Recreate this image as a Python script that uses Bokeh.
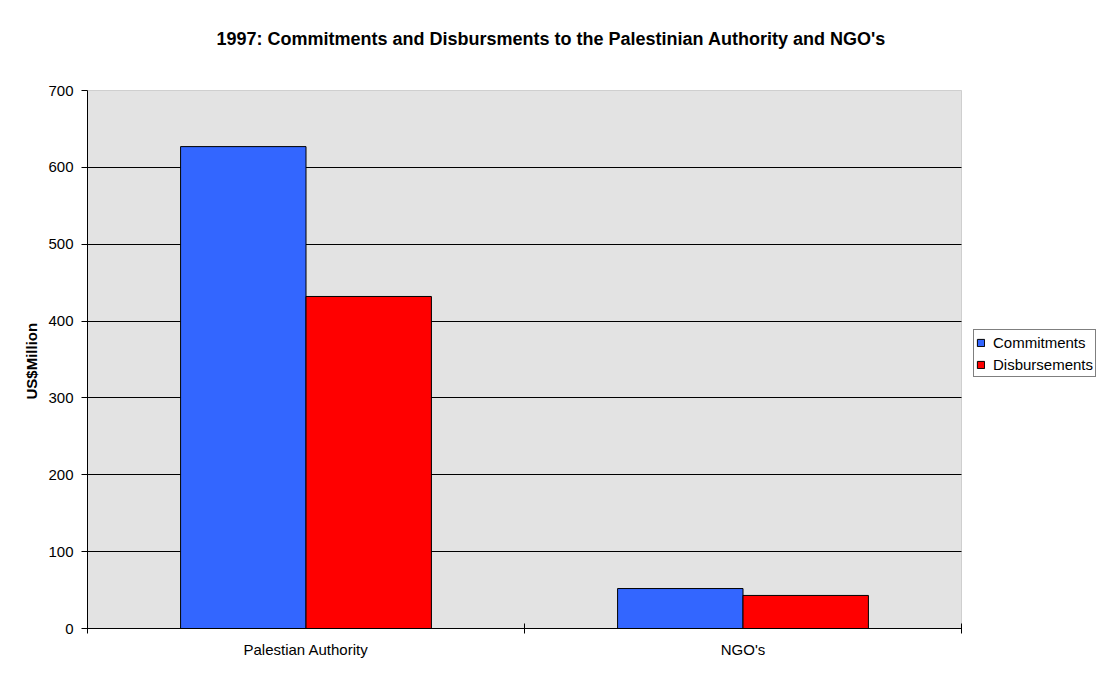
from bokeh.plotting import figure
from bokeh.models import Range1d, FixedTicker, ColumnDataSource, Legend, LegendItem, BoxAnnotation
from bokeh.transform import dodge
from bokeh.embed import file_html
from bokeh.resources import INLINE

categories = ["Palestian Authority", "NGO's"]
commitments = [627, 52]
disbursements = [432, 43]
y_ticks = [0, 100, 200, 300, 400, 500, 600, 700]

FONT = "Liberation Sans"
n = len(categories)
y_max = y_ticks[-1]

src = ColumnDataSource(dict(
    x=[i + 0.5 for i in range(n)],
    commitments=commitments,
    disbursements=disbursements,
))

# layout (pixels)
W, H = 1104, 670
LEFT, RIGHT_DATA, TOP_DATA, BOTTOM = 87, 961, 90, 628
RIGHT_BORDER = 4
FRAME_TOP = 60
frame_w = W - RIGHT_BORDER - LEFT
x_end = n * frame_w / (RIGHT_DATA - LEFT)
y_end = y_max * (BOTTOM - FRAME_TOP) / (BOTTOM - TOP_DATA)

p = figure(width=W, height=H, output_backend="svg", toolbar_location=None,
           x_range=Range1d(0, x_end), y_range=Range1d(0, y_end),
           min_border_left=LEFT, min_border_right=RIGHT_BORDER, min_border_top=FRAME_TOP,
           min_border_bottom=H - BOTTOM)

p.background_fill_color = "white"
p.border_fill_color = "white"
p.outline_line_color = None

# plot area (grey background with grey border)
p.add_layout(BoxAnnotation(left=0, right=n, bottom=0, top=y_max,
                           fill_color="#E3E3E3", fill_alpha=1,
                           line_color="#808080", line_width=1, level="image"))

bw = 0.287
r1 = p.vbar(x=dodge("x", -bw / 2, range=p.x_range), top="commitments", width=bw, source=src,
            fill_color="#3366FF", line_color="black", line_width=1)
r2 = p.vbar(x=dodge("x", bw / 2, range=p.x_range), top="disbursements", width=bw, source=src,
            fill_color="#FF0000", line_color="black", line_width=1)

# title
p.title.text = "1997: Commitments and Disbursments to the Palestinian Authority and NGO's"
p.title.align = "left"
p.title.text_font = FONT
p.title.text_font_size = "18px"
p.title.text_font_style = "bold"
p.title.text_color = "black"
p.title.offset = 129
p.title.standoff = 24

# x axis
xa = p.xaxis[0]
xa.bounds = (0, n)
xa.ticker = FixedTicker(ticks=[i + 0.5 for i in range(n)],
                        minor_ticks=list(range(n + 1)))
xa.major_label_overrides = {i + 0.5: c for i, c in enumerate(categories)}
xa.major_tick_in = 0
xa.major_tick_out = 0
xa.minor_tick_in = 5
xa.minor_tick_out = 5
xa.minor_tick_line_color = "black"
xa.axis_line_color = "black"
xa.major_label_text_font = FONT
xa.major_label_text_font_size = "15px"
xa.major_label_text_color = "black"
xa.major_label_standoff = 7

p.xgrid.visible = False

# y axis
ya = p.yaxis[0]
ya.bounds = (0, y_max)
ya.ticker = FixedTicker(ticks=y_ticks, minor_ticks=[])
ya.major_tick_in = 0
ya.major_tick_out = 6
ya.major_tick_line_color = "black"
ya.axis_line_color = "black"
ya.major_label_text_font = FONT
ya.major_label_text_font_size = "15px"
ya.major_label_text_color = "black"
ya.major_label_standoff = 8
# trailing non-breaking spaces centre the visible label on the 0-700 plot area
ya.axis_label = "US$Million" + "\u00a0" * 8
ya.axis_label_text_font = FONT
ya.axis_label_text_font_size = "15px"
ya.axis_label_text_font_style = "bold"
ya.axis_label_text_color = "black"
ya.axis_label_standoff = 5

p.ygrid.grid_line_color = "black"
p.ygrid.grid_line_width = 1
p.ygrid.ticker = FixedTicker(ticks=y_ticks[1:-1])
p.ygrid.cross_bounds = (0, n)

legend = Legend(items=[LegendItem(label="Commitments", renderers=[r1]),
                       LegendItem(label="Disbursements", renderers=[r2])],
                location=(973 - LEFT, BOTTOM - 377), orientation="vertical")
legend.border_line_color = "black"
legend.border_line_width = 1
legend.background_fill_color = "white"
legend.background_fill_alpha = 1
legend.label_text_font = FONT
legend.label_text_font_size = "15px"
legend.label_text_color = "black"
legend.glyph_width = 9
legend.glyph_height = 9
legend.label_height = 20
legend.label_standoff = 8
legend.padding = 2
legend.spacing = 2
legend.margin = 0
p.add_layout(legend, "center")

open("out.html", "w").write(file_html(p, INLINE))
